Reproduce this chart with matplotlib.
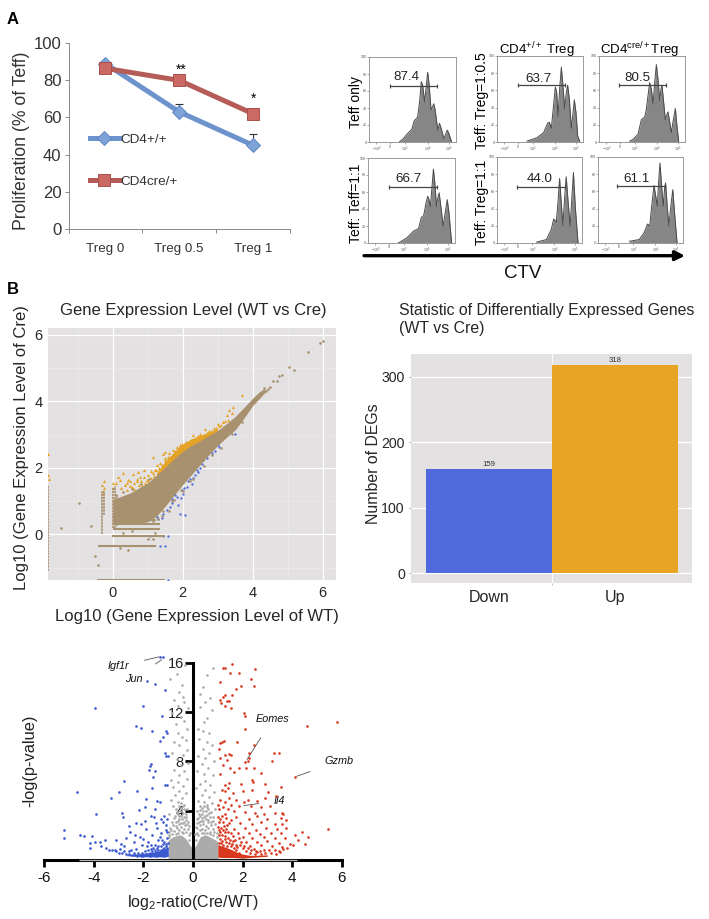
import matplotlib
matplotlib.use("Agg")
import matplotlib.pyplot as plt
from matplotlib.ticker import MultipleLocator

plt.rcParams['font.family'] = ['Liberation Sans', 'DejaVu Sans']
plt.rcParams['mathtext.fontset'] = 'custom'
plt.rcParams['mathtext.rm'] = 'Liberation Sans'
plt.rcParams['mathtext.it'] = 'Liberation Sans:italic'
plt.rcParams['mathtext.default'] = 'regular'
plt.rcParams['axes.unicode_minus'] = False

W, H = 709, 919

# ---------- Panel A line chart ----------
treg_labels = ['Treg 0', 'Treg 0.5', 'Treg 1']
cd4_wt = [89, 63, 45]
cd4_cre = [86.5, 80, 62]
cd4_wt_err = [0, 4, 6]

# ---------- Panel A histograms (channel, % of max) ----------
hist_gate = ['87.4', '63.7', '80.5', '66.7', '44.0', '61.1']
h1_x = [90,102,112,127,134,144,150,155,159,165,170,174,178,184,188,192,196,204,209,214,222,227,232,237,245]
h1_y = [0,4,9,15,25,29,47,71,67,47,67,82,69,38,41,45,38,14,22,16,4,9,14,10,0]
h2_x = [90,120,140,152,157,163,170,175,179,183,188,193,198,203,208,212,217,223,227,232,237,242,248]
h2_y = [1,5,11,22,23,16,44,64,58,30,62,87,65,38,58,66,50,16,30,49,34,7,1]
h3_x = [92,102,117,127,137,142,147,152,157,162,167,172,177,182,186,189,193,199,203,207,211,217,223,229,234,239]
h3_y = [1,3,9,26,29,38,54,69,62,44,69,90,73,48,62,66,50,26,31,35,26,11,26,39,18,1]
h4_x = [90,115,135,150,158,165,172,177,181,185,190,194,199,203,207,211,216,223,229,235,240,248]
h4_y = [0,6,14,17,30,32,47,55,51,43,67,87,67,43,53,59,43,20,36,51,36,0]
h5_x = [120,150,165,172,180,185,190,195,200,205,210,216,222,227,232,238,246]
h5_y = [1,4,16,28,24,47,75,47,20,51,77,47,20,51,82,40,0]
h6_x = [95,125,140,150,157,163,170,175,180,184,188,193,198,202,205,210,215,221,227,233,240]
h6_y = [2,4,12,22,20,43,67,55,43,71,93,67,43,63,70,43,20,43,62,32,0]
gate_start = [62, 62, 59, 62, 62, 58]
gate_end = [202, 205, 202, 205, 205, 203]
gate_y = [66, 66, 66, 66, 65, 66]
gate_text_x = [112, 123, 115, 120, 130, 118]
gate_text_y = [76, 73, 74, 75, 75, 75]
flow_tick_pos = [22, 62, 107, 174, 237]
flow_tick_lab = ['$-10^3$', '0', '$10^3$', '$10^4$', '$10^5$']

# ---------- Panel B expression scatter ----------
band_x = [0.0, 0.25, 0.5, 0.75, 1.0, 1.25, 1.5, 1.75, 2.0, 2.25, 2.5, 2.75, 3.0, 3.25, 3.5, 3.75, 4.0, 4.2, 4.35]
band_lo = [0.3, 0.3, 0.3, 0.33, 0.38, 0.55, 0.85, 1.18, 1.5, 1.8, 2.1, 2.4, 2.68, 2.92, 3.15, 3.5, 3.88, 4.1, 4.27]
band_hi = [1.05, 1.15, 1.25, 1.4, 1.55, 1.78, 2.02, 2.28, 2.5, 2.68, 2.82, 2.98, 3.13, 3.33, 3.55, 3.82, 4.1, 4.3, 4.38]
gold_band_x = [1.25, 1.5, 1.75, 2.0, 2.25, 2.5, 2.75, 3.0]
gold_band_lo = [1.75, 2.0, 2.25, 2.48, 2.66, 2.8, 2.96, 3.11]
gold_band_hi = [1.85, 2.2, 2.48, 2.72, 2.88, 2.98, 3.08, 3.2]
row_y = [0.55, 0.42, 0.3, 0.16, -0.04, -0.35, -1.37]
row_x0 = [0.0, 0.0, 0.0, 0.0, -0.02, -0.42, -0.45]
row_x1 = [1.25, 1.25, 1.35, 1.35, 1.5, 1.25, 1.5]
col_x = [-1.84, -0.31, -0.25, 0.0, 0.06, 0.12]
col_y0 = [-1.1, 0.0, 0.6, 0.2, 0.2, 0.25]
col_y1 = [1.5, 1.3, 1.3, 1.4, 1.45, 1.2]
brown_pts = [(-0.96,0.96),(-1.48,0.2),(-0.62,0.25),(-0.52,-0.64),(-0.41,-0.92),(0.45,-0.47),(0.21,-0.42),
             (5.59,5.48),(5.92,5.76),(6.0,5.83),(5.04,5.03),(5.18,4.96),(4.83,4.8),(4.76,4.78),(4.59,4.63),(4.68,4.62),
             (4.5,4.45),(4.45,4.38),(4.38,4.32),(4.33,4.4),(4.28,4.3),(0.3,0.05),(0.55,0.1),(1.0,-0.15),(1.15,-0.15),(1.2,0.05),
             (2.0,1.3),(1.6,0.7),(1.4,0.55),(1.75,1.05),(2.2,1.6),(0.1,1.2),(0.3,1.28),(0.55,1.38),(0.8,1.52),(1.05,1.68),
             (1.3,0.45),(1.45,0.72),(1.7,1.0),(1.95,1.35),(2.3,1.68),(2.6,2.05),(2.85,2.38),(3.1,2.6),(3.4,3.02),(3.7,3.38),(1.15,0.4),(1.25,0.6)]
gold_pts = [(-1.84,2.41),(-1.84,1.78),(-1.82,1.68),(-0.31,1.48),(-0.24,1.61),(-0.27,1.28),(-0.25,1.4),(0.0,1.55),(0.09,1.55),(0.0,1.41),
            (0.2,1.63),(0.3,1.86),(0.16,1.73),(0.45,1.63),(0.59,1.81),(0.4,1.33),(0.54,1.43),(0.68,1.68),(0.78,1.73),(0.73,1.88),
            (0.88,1.93),(0.97,1.63),(1.14,2.33),(1.26,2.08),(1.45,2.43),(1.5,2.48),(1.5,2.23),(1.73,2.33),(1.83,2.63),(1.97,2.73),
            (2.07,2.68),(2.3,2.98),(2.5,3.03),(2.64,3.18),(2.88,3.2),(3.02,3.33),(3.26,3.58),(3.33,3.73),(3.45,3.83),(3.69,4.18),
            (0.35,1.5),(0.5,1.45),(0.62,1.38),(0.75,1.5),(0.85,1.45),(0.92,1.55),(1.0,1.78),(1.05,1.55),(1.1,1.9),(1.18,1.75),
            (1.22,1.95),(1.3,1.85),(1.35,2.15),(1.4,1.95),(1.55,2.2),(1.62,2.45),(1.68,2.2),(1.78,2.5),(1.9,2.6),(2.05,2.55),
            (2.15,2.7),(2.2,2.62),(2.35,2.8),(2.42,2.92),(2.55,2.85),(2.7,3.05),(2.8,3.1),(2.95,3.2),(3.1,3.3),(3.2,3.42),(3.4,3.65),
            (0.25,1.4),(0.4,1.55),(0.5,1.6),(0.62,1.55),(0.7,1.62),(0.82,1.6),(0.9,1.72),(1.0,1.62),(1.1,1.7),(1.15,1.85),(1.25,1.95),
            (1.32,2.0),(1.42,2.1),(1.48,2.3),(1.58,2.32),(1.65,2.32),(1.72,2.55),(1.85,2.55),(1.92,2.7),(2.0,2.62),(2.1,2.78),(2.25,2.85),
            (2.3,2.75),(2.45,2.95),(2.6,3.0),(2.75,3.12),(3.05,3.25),(3.15,3.38),(3.3,3.45)]
blue_pts_b = [(2.93,2.5),(2.21,1.68),(2.54,2.13),(2.59,2.23),(3.02,2.68),(3.48,3.03),(2.45,1.88),(2.35,1.78),(2.26,1.53),(2.11,1.43),
              (1.97,1.33),(2.02,1.23),(1.83,1.13),(1.69,1.08),(1.64,0.83),(1.54,0.73),(1.45,0.63),(2.07,0.58),(1.92,0.63),(1.87,0.88),
              (1.26,0.53),(1.59,-0.04),(1.45,-0.04),(1.5,-0.35),(1.35,-0.35),(1.59,-1.37),(1.07,-0.04),(2.15,1.6),(2.3,1.7),(2.48,2.0),
              (1.78,1.2),(2.05,1.4),(2.7,2.3),(2.85,2.45),(3.05,2.62),(1.3,0.45),(1.4,0.5),(1.7,0.95),(1.95,1.1),(2.4,1.95)]

# ---------- Panel B bar chart ----------
deg_labels = ['Down', 'Up']
deg_counts = [159, 318]

# ---------- Panel B volcano ----------
vol_blue = [(-1.32,16.5),(-1.22,16.5),(-1.85,14.5),(-1.52,14.3),(-1.12,13.8),(-2.03,12.5),(-3.94,12.3),(-1.25,11.7),(-2.3,10.9),(-2.1,10.7),
 (-1.65,10.5),(-1.09,10.5),(-1.05,10.3),(-1.22,10.0),(-1.32,9.65),(-1.14,8.7),(-1.09,8.4),(-1.0,8.4),(-1.68,7.8),(-1.72,7.6),(-1.78,7.3),
 (-1.52,7.2),(-2.77,6.4),(-1.61,6.7),(-4.7,5.5),(-2.97,5.5),(-2.26,5.6),(-3.29,5.0),(-1.65,5.8),(-1.12,6.1),(-1.05,6.1),(-1.9,4.95),
 (-2.19,4.05),(-1.34,4.7),(-1.45,4.8),(-3.9,3.7),(-2.86,3.8),(-2.82,3.5),(-1.92,4.3),(-1.52,4.1),(-1.59,3.5),(-5.2,2.4),(-5.2,1.8),
 (-4.54,2.0),(-4.4,1.95),(-4.07,1.95),(-4.14,1.4),(-4.17,0.95),(-3.94,1.5),(-3.76,1.45),(-3.56,1.6),(-3.7,1.1),(-3.53,0.95),(-3.4,0.85),
 (-3.25,0.8),(-3.15,0.85),(-3.1,0.7),(-3.0,0.6),(-2.95,0.9),(-2.85,0.55),(-2.8,1.1),(-2.7,0.5),(-2.6,0.45),(-2.5,0.8),(-2.45,0.4),(-2.4,1.5),
 (-2.35,0.4),(-2.3,0.9),(-2.25,0.35),(-2.2,0.6),(-2.15,1.9),(-2.1,0.35),(-2.05,1.2),(-2.0,0.3),(-1.95,0.7),(-1.9,2.5),(-1.85,0.4),(-1.8,1.5),
 (-1.75,0.3),(-1.7,0.9),(-1.65,2.0),(-1.6,0.5),(-1.55,1.2),(-1.5,0.35),(-1.45,2.6),(-1.42,0.8),(-1.4,1.6),(-1.35,0.4),(-1.3,1.1),(-1.28,2.2),
 (-1.25,0.6),(-1.2,3.1),(-1.18,0.35),(-1.15,1.5),(-1.12,0.8),(-1.1,2.4),(-1.08,1.1),(-1.05,0.5),(-1.03,1.8),(-2.55,2.3),(-2.6,2.75),(-2.3,3.0),
 (-2.1,2.9),(-1.95,3.2),(-1.7,3.6),(-1.15,3.6),(-2.7,1.8),(-2.9,1.3),(-3.1,1.6),(-2.35,2.0),(-2.0,1.7),(-1.85,1.1),(-1.6,1.0),(-1.35,1.9),
 (-1.22,1.3),(-1.48,0.65),(-1.28,0.7),(-1.75,0.6),(-2.05,0.6),(-1.9,0.5),(-1.08,2.8),(-1.5,3.0),(-1.3,3.3),(-2.4,0.6),(-2.6,0.7),(-2.78,0.75),
 (-1.02,1.4),(-1.05,1.0),(-1.1,1.3),(-1.15,1.0),(-1.2,0.9),(-1.3,0.85),(-1.4,1.1),(-1.45,0.95),(-1.55,0.8),(-1.65,0.75),(-1.7,1.25),(-1.8,0.85),
 (-1.03,2.3),(-1.25,1.65),(-1.05,3.3)]
vol_red = [(1.21,15.6),(1.3,15.6),(1.57,15.9),(1.48,15.2),(1.84,15.2),(2.51,15.5),(2.34,14.7),(1.1,14.4),(2.45,14.1),(1.94,14.1),(1.75,13.9),
 (1.3,13.4),(1.21,13.2),(1.1,13.0),(1.57,13.4),(1.37,12.9),(1.47,12.9),(1.13,12.7),(1.52,12.3),(1.3,12.5),(2.04,11.9),(2.09,11.7),(2.08,10.6),
 (4.6,10.9),(5.83,11.2),(1.08,9.5),(1.17,9.6),(1.26,9.65),(1.76,9.6),(2.47,9.3),(1.03,9.0),(2.25,8.7),(3.25,8.7),(3.45,8.7),(3.19,8.0),
 (1.47,8.6),(1.3,8.5),(1.54,8.55),(1.1,8.3),(1.37,8.1),(2.1,7.95),(2.2,8.05),(2.25,8.3),(1.2,7.7),(1.5,7.5),(1.84,7.5),(2.15,7.45),(2.48,7.45),
 (2.74,7.05),(1.1,7.0),(1.64,7.15),(4.13,6.75),(2.4,6.5),(2.44,6.3),(1.3,6.05),(1.44,6.25),(1.94,6.2),(3.56,5.95),(1.42,5.8),(2.9,6.2),(3.03,5.5),
 (1.15,5.7),(1.28,5.6),(1.6,5.4),(2.0,5.6),(2.4,5.7),(3.35,5.2),(1.45,5.0),(1.75,4.85),(2.05,4.7),(2.2,4.85),(2.6,4.8),(2.9,5.0),(1.1,4.9),(1.3,4.7),
 (1.0,4.5),(1.55,4.5),(1.85,4.4),(2.35,4.4),(2.75,4.3),(3.1,4.4),(1.05,4.1),(1.4,4.15),(1.65,3.95),(2.1,3.9),(2.5,3.85),(2.85,3.75),(3.3,3.85),
 (3.6,3.8),(3.65,3.75),(1.15,3.6),(1.35,3.4),(1.75,3.5),(2.25,3.3),(2.6,3.55),(3.0,3.3),(3.55,3.4),(3.75,3.25),(1.05,3.1),(1.45,3.0),(1.9,3.0),
 (2.4,2.9),(2.75,3.1),(3.3,2.9),(3.6,2.95),(5.45,2.5),(1.25,2.75),(1.65,2.55),(2.1,2.6),(2.55,2.4),(2.95,2.6),(3.4,2.5),(3.75,2.6),(1.05,2.4),
 (1.4,2.3),(1.8,2.2),(2.25,2.15),(2.7,2.1),(3.15,2.2),(3.55,2.15),(4.4,2.3),(4.1,2.0),(4.65,1.9),(1.15,2.05),(1.6,1.95),(2.0,1.85),(2.4,1.8),(2.85,1.9),
 (3.3,1.8),(3.7,1.75),(4.25,1.6),(4.5,1.3),(1.3,1.7),(1.7,1.6),(2.15,1.5),(2.6,1.45),(3.0,1.55),(3.45,1.4),(3.9,1.3),(4.05,1.2),(1.45,1.35),(1.9,1.25),
 (2.3,1.15),(2.75,1.2),(3.2,1.1),(3.6,1.05),(3.8,1.0),(2.0,0.95),(2.45,0.9),(2.85,0.85),(3.05,0.8),(3.3,0.85),(3.45,0.75),(3.65,0.9),(1.75,0.8),(2.15,0.7),
 (2.6,0.65),(2.9,0.6),(3.15,0.55),(3.35,0.5),(2.3,0.55),(2.75,0.45),(2.5,0.5),(1.85,0.55),(3.5,0.65),
 (1.03,1.4),(1.08,1.7),(1.12,1.35),(1.18,1.55),(1.22,1.25),(1.28,1.95),(1.33,1.45),(1.38,1.15),(1.42,1.75),(1.48,1.6),(1.52,1.1),(1.58,1.3),
 (1.62,1.55),(1.67,0.95),(1.72,1.25),(1.78,1.05),(1.03,2.0),(1.07,2.25),(1.13,2.6),(1.2,2.4),(1.28,2.25),(1.35,2.55),(1.02,2.7),(1.1,3.3),(1.22,3.1),
 (1.3,3.7),(1.02,3.5),(1.2,4.3),(1.52,3.25),(1.38,2.8),(1.55,2.2),(1.85,1.75),(1.95,1.5),(2.05,1.1),(2.2,0.95),(2.35,0.8),(2.55,0.75),(2.7,0.7)]
red_band_x = [1.0, 1.3, 1.6, 1.8, 2.0, 2.3, 2.6, 3.0]
red_band_lo = [0.22, 0.2, 0.2, 0.18, 0.15, 0.2, 0.25, 0.3]
red_band_hi = [1.25, 1.05, 0.8, 0.6, 0.48, 0.38, 0.38, 0.42]
blue_band_x = [-2.7, -2.3, -2.0, -1.7, -1.4, -1.2, -1.0]
blue_band_lo = [0.35, 0.3, 0.27, 0.25, 0.25, 0.25, 0.28]
blue_band_hi = [0.42, 0.48, 0.55, 0.62, 0.72, 0.85, 1.0]
gray_env_x = [-1.0, -0.8, -0.5, -0.3, -0.12, 0.0, 0.12, 0.3, 0.5, 0.8, 1.0]
gray_env_top = [1.6, 1.9, 2.05, 1.75, 1.2, 0.9, 1.2, 1.9, 2.05, 1.75, 1.5]
vol_gray = [(-0.33,15.8),(0.79,15.6),(0.56,15.0),(-0.91,14.7),(-0.65,15.1),(-0.45,14.2),(0.4,14.0),(0.3,13.5),(-0.55,13.6),(-0.4,13.2),(-0.75,13.0),
 (0.7,13.1),(0.5,12.8),(-0.35,12.8),(-0.6,12.5),(0.3,12.4),(-0.2,12.3),(0.75,12.2),(-0.85,11.9),(0.55,11.5),(-0.5,11.6),(-0.35,11.3),(0.45,11.2),
 (-0.7,11.0),(0.2,10.6),(0.4,10.5),(-0.25,10.6),(-0.6,10.3),(0.65,10.3),(-0.45,10.0),(0.25,9.8),(-0.3,9.7),(0.55,9.6),(-0.75,9.6),(0.75,9.3),
 (-0.55,9.3),(0.4,9.0),(-0.25,8.9),(-0.85,8.7),(0.65,8.7),(-0.4,8.5),(0.2,8.4),(0.5,8.3),(-0.65,8.2),(0.85,8.0),(-0.2,7.9),(0.35,7.8),(-0.5,7.7),
 (0.62,7.5),(-0.75,7.3),(-0.35,7.2),(0.15,7.2),(0.45,7.0),(-0.55,6.9),(0.8,6.9),(-0.9,6.5),(-0.25,6.6),(0.5,6.4),(0.28,6.2),(-0.62,6.3),(0.68,6.1),
 (-0.4,6.0),(-0.8,5.9),(0.12,5.8),(0.5,5.7),(-0.55,5.6),(0.85,5.5),(-0.3,5.4),(-0.72,5.3),(0.35,5.3),(0.65,5.1),(-0.45,5.0),(-0.9,4.9),(0.2,4.8),
 (-0.6,4.7),(0.45,4.7),(0.75,4.6),(-0.35,4.5),(-0.8,4.4),(0.3,4.4),(0.55,4.3),(-0.5,4.2),(-0.25,4.1),(0.9,4.1),(0.15,4.0),(0.42,3.95),(-0.65,3.9),
 (-0.42,3.8),(0.65,3.8),(-0.95,3.7),(0.25,3.7),(0.5,3.6),(-0.55,3.55),(-0.3,3.5),(0.8,3.45),(-0.75,3.4),(0.35,3.4),(0.15,3.3),(-0.45,3.3),(0.6,3.25),
 (-0.62,3.2),(-0.85,3.1),(0.42,3.15),(0.72,3.05),(-0.38,3.1),(0.25,3.05),(-0.5,3.0),(-0.25,2.9),(0.9,2.9),(0.12,2.7),(-0.7,2.75),(-0.92,2.6),(0.82,2.5),
 (-0.12,2.2),(0.1,2.1),(-0.95,1.9),(0.95,1.9),
 (-0.48,4.6),(-0.58,4.4),(-0.42,4.35),(-0.7,4.15),(-0.35,4.15),(-0.52,3.95),(-0.6,3.7),(-0.28,3.75),(-0.47,3.6),(-0.72,3.55),(-0.38,3.45),(-0.55,3.3),
 (-0.28,3.25),(-0.68,3.1),(-0.42,3.0),(-0.2,3.1),(-0.58,2.9),(-0.8,2.85),(-0.32,2.8),(-0.15,2.75),(-0.5,2.7),(-0.65,2.6),(-0.88,2.4),(-0.38,2.5),(-0.22,2.5),
 (-0.55,2.45),(-0.75,2.35),(-0.95,2.3),(-0.45,2.3),(-0.3,2.25),(-0.62,2.2),(-0.18,2.0),(-0.85,2.1),(-0.98,2.05),(-0.4,2.15),(-0.7,2.1),(-0.15,1.6),
 (0.45,4.4),(0.55,4.5),(0.35,4.25),(0.62,4.1),(0.28,4.05),(0.52,3.95),(0.72,3.9),(0.38,3.75),(0.58,3.65),(0.3,3.55),(0.45,3.5),(0.68,3.45),(0.22,3.4),
 (0.52,3.3),(0.8,3.2),(0.32,3.2),(0.6,3.05),(0.18,3.0),(0.42,2.95),(0.72,2.8),(0.3,2.85),(0.52,2.75),(0.62,2.6),(0.18,2.6),(0.38,2.55),(0.85,2.3),
 (0.28,2.4),(0.48,2.4),(0.7,2.3),(0.95,2.2),(0.15,2.2),(0.35,2.2),(0.58,2.2),(0.22,2.05),(0.45,2.15),(0.8,2.0),(0.12,1.6),(0.68,2.1)]
vol_xaxis = [-4.6, 4.2]

BG = '#E3E1E2'
GREY = '#262626'

fig = plt.figure(figsize=(W / 100, H / 100), dpi=100)

def axpx(l, t, r, b):
    return fig.add_axes([l / W, 1 - b / H, (r - l) / W, (b - t) / H])

def ftext(x, y, s, **kw):
    kw.setdefault('ha', 'center')
    kw.setdefault('va', 'center')
    kw.setdefault('color', 'black')
    return fig.text(x / W, 1 - y / H, s, **kw)

ftext(13, 19, 'A', fontsize=12, fontweight='bold')
ftext(13, 289, 'B', fontsize=12, fontweight='bold')

# ---------- A: line chart ----------
ax = axpx(68.5, 43.3, 290, 228.7)
cats = [0, 1, 2]
ax.errorbar(cats, cd4_wt, yerr=[[0, 0, 0], cd4_wt_err], fmt='none', ecolor='#333333', elinewidth=0.8, capsize=3.2, capthick=0.8, zorder=1)
ax.plot(cats, cd4_wt, '-D', color='#6D93CC', lw=3.6, ms=7.5, mfc='#7EA3D8', mec='#5E86C2', mew=0.7, label='CD4+/+', zorder=2)
ax.plot(cats, cd4_cre, '-s', color='#B55C58', lw=3.6, ms=9, mfc='#CB6A64', mec='#A94F4A', mew=0.7, label='CD4cre/+', zorder=3)
ax.set_xlim(-0.5, 2.5)
ax.set_ylim(0, 100)
ax.set_xticks([-0.5, 0.5, 1.5, 2.5])
ax.set_xticklabels([])
ax.set_xticks(cats, minor=True)
ax.set_xticklabels(treg_labels, minor=True, fontsize=9.6, color='#333333')
ax.tick_params(axis='x', which='minor', length=0, pad=10)
ax.tick_params(axis='x', which='major', length=3, width=0.7, color='#888888', direction='out')
ax.set_yticks([0, 20, 40, 60, 80, 100])
ax.tick_params(axis='y', labelsize=12, length=3, width=0.7, color='#888888', pad=2, labelcolor='#333333')
for s in ['top', 'right']:
    ax.spines[s].set_visible(False)
for s in ['left', 'bottom']:
    ax.spines[s].set_color('#888888')
    ax.spines[s].set_linewidth(0.7)
ax.text(1.02, 85.5, '**', ha='center', va='center', fontsize=10)
ax.text(2, 70, '*', ha='center', va='center', fontsize=10)
ax.legend(loc='upper left', bbox_to_anchor=(0.095, 0.515), frameon=False, fontsize=9.7, handlelength=2.2,
          handletextpad=0.1, labelspacing=2.2, borderpad=0, borderaxespad=0, numpoints=1, labelcolor='#333333')
ftext(22, 141, 'Proliferation (% of Teff)', rotation=90, fontsize=12.7, color='#333333')

# ---------- A: flow histograms ----------
rects = [(369, 57, 456, 142), (497, 56, 583, 142), (599, 56, 685, 142),
         (368, 158, 455, 243), (497, 157, 582, 243), (598, 157, 683, 243)]
hists = [(h1_x, h1_y), (h2_x, h2_y), (h3_x, h3_y), (h4_x, h4_y), (h5_x, h5_y), (h6_x, h6_y)]
for i, (rect, (hx, hy)) in enumerate(zip(rects, hists)):
    a = axpx(*rect)
    a.fill_between(hx, hy, 0, color='#868686', lw=0)
    a.plot(hx, hy, color='#4A4A4A', lw=0.7)
    a.set_xlim(0, 258)
    a.set_ylim(0, 100)
    a.set_xticks(flow_tick_pos)
    a.set_xticklabels(flow_tick_lab, fontsize=2.6, color='#555555')
    a.set_yticks([0, 20, 40, 60, 80, 100])
    a.tick_params(length=1.2, width=0.4, pad=0.6, labelsize=2.6, color='#666666', labelcolor='#555555')
    for s in a.spines.values():
        s.set_color('#999999')
        s.set_linewidth(0.7)
    a.plot([gate_start[i], gate_end[i]], [gate_y[i]] * 2, color='#444444', lw=0.9, marker='|', ms=3.5, mew=0.8)
    a.text(gate_text_x[i], gate_text_y[i], hist_gate[i], ha='center', va='center', fontsize=9.6, color='#222222')

ftext(356, 102, 'Teff only', rotation=90, fontsize=10)
ftext(482, 101, 'Teff: Treg=1:0.5', rotation=90, fontsize=10)
ftext(356, 203, 'Teff: Teff=1:1', rotation=90, fontsize=10)
ftext(482, 202, 'Teff: Treg=1:1', rotation=90, fontsize=10)
ftext(537, 50, r'CD4$^{+/+}$ Treg', fontsize=9.5)
ftext(640, 50, r'CD4$^{cre/+}$Treg', fontsize=9.5)
fig.add_artist(matplotlib.patches.FancyArrowPatch((364 / W, 1 - 255.7 / H), (685 / W, 1 - 255.7 / H), transform=fig.transFigure,
               arrowstyle='-|>', mutation_scale=14, lw=2.4, color='black', shrinkA=0, shrinkB=0))
ftext(523, 273, 'CTV', fontsize=13.5, color='#111111')

# ---------- B: expression scatter ----------
ax = axpx(48, 328, 336, 580)
ax.set_facecolor(BG)
ax.set_xlim(-1.85, 6.38)
ax.set_ylim(-1.37, 6.21)
ax.set_axisbelow(True)
ax.xaxis.set_major_locator(MultipleLocator(2))
ax.yaxis.set_major_locator(MultipleLocator(2))
ax.xaxis.set_minor_locator(MultipleLocator(1))
ax.yaxis.set_minor_locator(MultipleLocator(1))
ax.grid(True, which='major', color='white', lw=0.9)
ax.grid(True, which='minor', color='#EFEDEE', lw=0.4)
ax.tick_params(which='minor', length=0)
ax.tick_params(which='major', length=0, labelsize=10.5, labelcolor=GREY, pad=4)
for s in ax.spines.values():
    s.set_visible(False)
BROWN = '#A8916F'
GOLD = '#E5A327'
BLUE = '#4F6BD8'
ax.fill_between(gold_band_x, gold_band_lo, gold_band_hi, color=GOLD, lw=0)
ax.scatter(*zip(*gold_pts), s=5, color=GOLD, lw=0, marker='^')
ax.scatter(*zip(*blue_pts_b), s=2.8, color=BLUE, lw=0)
ax.fill_between(band_x, band_lo, band_hi, color=BROWN, lw=0)
ax.hlines(row_y, row_x0, row_x1, color=BROWN, lw=1.5)
ax.vlines(col_x, col_y0, col_y1, color=BROWN, lw=1.2, linestyles=(0, (1.5, 0.4)))
ax.scatter(*zip(*brown_pts), s=3.5, color=BROWN, lw=0, zorder=3)
ftext(193, 310, 'Gene Expression Level (WT vs Cre)', fontsize=12, color=GREY)
ftext(197, 617, 'Log10 (Gene Expression Level of WT)', fontsize=12, color=GREY)
ftext(22, 448, 'Log10 (Gene Expression Level of Cre)', rotation=90, fontsize=12, color=GREY)

# ---------- B: bars ----------
ax = axpx(411, 354.3, 692.3, 583.3)
ax.set_facecolor(BG)
ax.set_axisbelow(True)
ax.set_xlim(-0.615, 1.61)
ax.set_ylim(-15.3, 334)
ax.bar([0, 1], deg_counts, width=1.0, color=['#5069DC', '#E8A425'], lw=0)
for xx, c in zip([0, 1], deg_counts):
    ax.text(xx, c + 1.5, str(c), ha='center', va='bottom', fontsize=5.6, color='#333333')
ax.set_xticks([0, 1])
ax.set_xticklabels(deg_labels, fontsize=11.5, color=GREY)
ax.set_xticks([0.5], minor=True)
ax.tick_params(axis='x', which='major', length=0, pad=5)
ax.tick_params(axis='x', which='minor', length=1.5, width=0.4, color='#999999')
ax.set_yticks([0, 100, 200, 300])
ax.tick_params(axis='y', labelsize=10.2, length=1.5, width=0.5, color='#888888', labelcolor=GREY, pad=3)
ax.grid(True, axis='y', color='white', lw=0.9)
ax.axvline(0.5, color='white', lw=0.6, zorder=0)
for s in ax.spines.values():
    s.set_visible(False)
ftext(399, 310, 'Statistic of Differentially Expressed Genes', ha='left', fontsize=11.4, color=GREY)
ftext(399, 329, '(WT vs Cre)', ha='left', fontsize=11.4, color=GREY)
ftext(374, 464, 'Number of DEGs', rotation=90, fontsize=11.4, color=GREY)

# ---------- B: volcano ----------
ax = axpx(44.3, 662.7, 341.7, 860)
ax.set_xlim(-6, 6)
ax.set_ylim(0, 16)
VG = '#ABABAB'
VB = '#3C5AD0'
VR = '#D8381E'
ax.fill_between(gray_env_x, 0, gray_env_top, color=VG, lw=0, zorder=2)
ax.fill_between(red_band_x, red_band_lo, red_band_hi, color=VR, lw=0, zorder=2)
ax.fill_between(blue_band_x, blue_band_lo, blue_band_hi, color=VB, lw=0, zorder=2)
ax.scatter(*zip(*vol_gray), s=3.6, color=VG, lw=0, clip_on=False, zorder=4)
ax.scatter(*zip(*vol_blue), s=3.6, color=VB, lw=0, clip_on=False, zorder=4)
ax.scatter(*zip(*vol_red), s=3.6, color=VR, lw=0, clip_on=False, zorder=4)
for s in ['top', 'right']:
    ax.spines[s].set_visible(False)
ax.spines['left'].set_position(('data', 0))
ax.spines['left'].set_linewidth(2.2)
ax.spines['bottom'].set_linewidth(2.2)
ax.spines['left'].set_zorder(3)
ax.spines['bottom'].set_zorder(3)
ax.hlines(0.02, vol_xaxis[0], vol_xaxis[1], color='#B5B5B5', lw=0.9, zorder=5, clip_on=False)
ax.set_xticks([-6, -4, -2, 0, 2, 4, 6])
ax.set_yticks([4, 8, 12, 16])
ax.tick_params(axis='x', labelsize=11, length=5, width=2, pad=3, labelcolor='#111111')
ax.tick_params(axis='y', labelsize=10.5, length=5.5, width=2, pad=1, labelcolor='#222222')
ax.patch.set_alpha(0)
ann = dict(fontsize=7.8, style='italic', color='#111111', ha='center', va='center',
           arrowprops=dict(arrowstyle='-', color='#555555', lw=0.6, shrinkA=9, shrinkB=1))
ax.annotate('Igf1r', xy=(-1.32, 16.5), xytext=(-3.0, 15.7), annotation_clip=False, **ann)
ax.annotate('Jun', xy=(-1.22, 16.3), xytext=(-2.4, 14.7), annotation_clip=False, **ann)
ax.annotate('Eomes', xy=(2.15, 8.05), xytext=(3.2, 11.4), **ann)
ax.annotate('Gzmb', xy=(4.13, 6.75), xytext=(5.9, 8.0), annotation_clip=False, **ann)
ax.annotate('Il4', xy=(2.0, 4.4), xytext=(3.5, 4.8), **ann)
ftext(30, 761, '-log(p-value)', rotation=90, fontsize=11.8, color='#222222')
ftext(193, 902, r'log$_2$-ratio(Cre/WT)', fontsize=11.5, color='#222222')

fig.savefig('out.png', dpi=100)
